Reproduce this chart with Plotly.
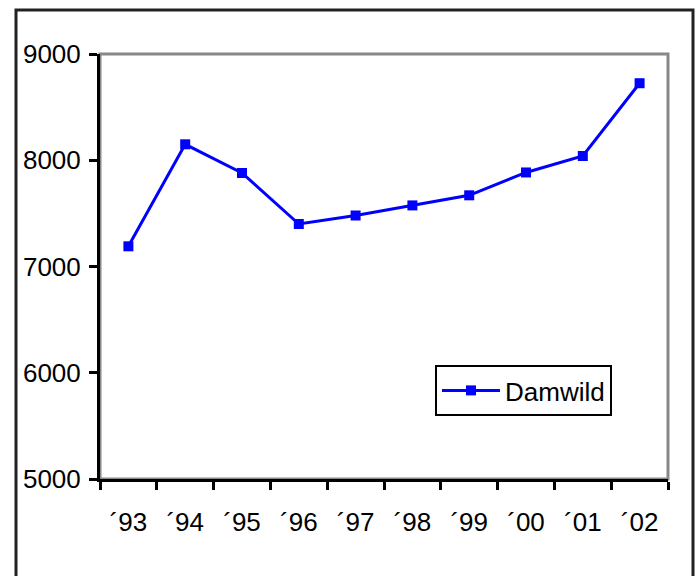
import plotly.graph_objects as go

years = ["´93", "´94", "´95", "´96", "´97", "´98", "´99", "´00", "´01", "´02"]
damwild = [7190, 8150, 7880, 7400, 7480, 7575, 7670, 7885, 8040, 8725]
series_name = "Damwild"

fig = go.Figure()
fig.add_trace(go.Scatter(
    x=years, y=damwild, name=series_name, mode="lines+markers",
    line=dict(color="#0000FF", width=3),
    marker=dict(symbol="square", size=10, color="#0000FF"),
))

L, R, T, B = 100, 30, 54, 97
W, H = 698, 576
pw, ph = W - L - R, H - T - B

fig.update_layout(
    width=W, height=H,
    margin=dict(l=L, r=R, t=T, b=B),
    paper_bgcolor="white", plot_bgcolor="white",
    font=dict(family="Liberation Sans, Arial, sans-serif", size=26, color="black"),
    showlegend=True,
    legend=dict(
        x=(435 - L) / pw, y=(H - B - 365) / ph, xanchor="left", yanchor="top",
        bordercolor="black", borderwidth=2, bgcolor="white",
        font=dict(size=26), itemwidth=58,
    ),
    shapes=[
        dict(type="rect", xref="paper", yref="paper", x0=0, x1=1, y0=0, y1=1,
             line=dict(color="#888888", width=3), layer="below"),
        dict(type="rect", xref="paper", yref="paper",
             x0=(16 - L) / pw, x1=(693 - L) / pw,
             y0=(H - B - 590) / ph, y1=(H - B - 10) / ph,
             line=dict(color="#222222", width=3), layer="below"),
    ],
)
fig.update_xaxes(
    type="category", tickson="boundaries", ticks="outside", ticklen=8, tickwidth=3,
    tickcolor="black", showline=True, linecolor="black", linewidth=3,
    showgrid=False, zeroline=False, ticklabelstandoff=18,
    range=[-0.5, 9.5],
)
fig.update_yaxes(
    range=[5000, 9000], tickvals=[5000, 6000, 7000, 8000, 9000],
    ticks="outside", ticklen=8, tickwidth=3, tickcolor="black",
    showline=True, linecolor="black", linewidth=3,
    showgrid=False, zeroline=False, ticklabelstandoff=3,
)

fig.write_html("out.html")
